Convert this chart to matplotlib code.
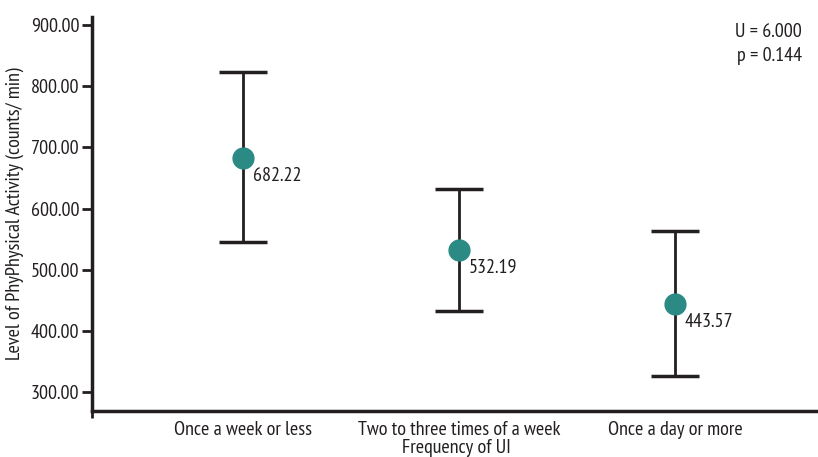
import matplotlib
matplotlib.use("Agg")
import matplotlib.pyplot as plt
from matplotlib import font_manager

# data
groups = ["Once a week or less", "Two to three times of a week", "Once a day or more"]
means = [682.22, 532.19, 443.57]
upper = [823, 632, 564]
lower = [545, 433, 327]
y_ticks = [300, 400, 500, 600, 700, 800, 900]

# a condensed face close to the original, whichever one is installed
names = {f.name for f in font_manager.fontManager.ttflist}
candidates = ["PT Sans Narrow", "Fira Sans Condensed", "Roboto Condensed",
              "Liberation Sans Narrow", "Open Sans Condensed", "Archivo Narrow",
              "Asap Condensed", "Encode Sans Condensed", "Barlow Semi Condensed"]
narrow = next((c for c in candidates if c in names), "Liberation Sans")
plt.rcParams["font.family"] = [narrow, "DejaVu Sans"]

dark = "#231f20"
teal = "#2b8a84"
fs = 14.5

fig = plt.figure(figsize=(8.18, 4.57), dpi=100)
ax = fig.add_axes([0.1125, 0.1007, 0.89, 0.862])

x = list(range(1, len(groups) + 1))
yerr = [[m - lo for m, lo in zip(means, lower)], [hi - m for m, hi in zip(means, upper)]]
ax.errorbar(x, means, yerr=yerr, fmt="none", ecolor=dark, elinewidth=2,
            capsize=17, capthick=2.5, zorder=2)
ax.plot(x, means, "o", color=teal, markersize=15, zorder=3)

for xi, m in zip(x, means):
    ax.annotate(f"{m:.2f}", (xi, m), xytext=(7, -13), textcoords="offset points",
                fontsize=fs, color=dark, va="center", ha="left")

ax.set_xlim(0.3, 3.67)
ax.set_ylim(269, 913)
ax.set_xticks(x)
ax.set_xticklabels(groups, fontsize=fs, color=dark)
ax.set_xticks([0.3], minor=True)
ax.tick_params(axis="x", which="major", length=0, pad=7)
ax.tick_params(axis="x", which="minor", length=5, width=2, color=dark)
ax.set_yticks(y_ticks)
ax.set_yticklabels([f"{v:.2f}" for v in y_ticks], fontsize=fs, color=dark)
ax.tick_params(axis="y", length=7, width=2, color=dark, pad=2)

ax.set_xlabel("Frequency of UI", fontsize=fs, color=dark, labelpad=0)
ax.set_ylabel("Level of PhyPhysical Activity (counts/ min)", fontsize=fs, color=dark, labelpad=5)

for side in ["top", "right"]:
    ax.spines[side].set_visible(False)
for side in ["left", "bottom"]:
    ax.spines[side].set_linewidth(2.5)
    ax.spines[side].set_color(dark)

ax.text(0.975, 0.985, "U = 6.000\np = 0.144", transform=ax.transAxes, ha="right", va="top",
        fontsize=fs, color=dark, linespacing=1.4)

fig.savefig("out.png", dpi=100)
